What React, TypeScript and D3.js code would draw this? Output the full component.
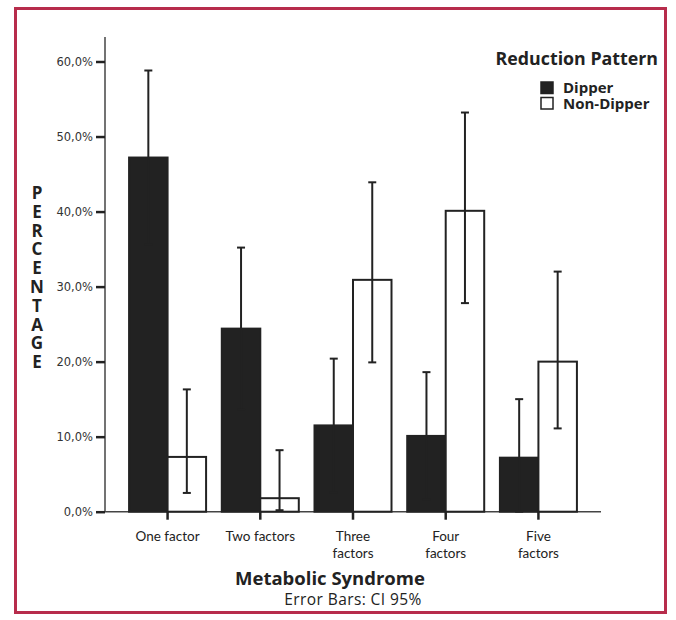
import React, { useEffect, useRef } from 'react';
import * as d3 from 'd3';

const categories = [["One factor"], ["Two factors"], ["Three", "factors"], ["Four", "factors"], ["Five", "factors"]];
const seriesNames = ["Dipper", "Non-Dipper"];
const dipper = [47.2, 24.4, 11.5, 10.1, 7.2];
const dipperLow = [35.6, 13.6, 2.6, 1.6, -0.6];
const dipperHigh = [58.8, 35.2, 20.4, 18.6, 15.0];
const nonDipper = [7.3, 1.8, 30.9, 40.1, 20.0];
const nonDipperLow = [2.5, 0.2, 19.9, 27.8, 11.1];
const nonDipperHigh = [16.3, 8.2, 43.9, 53.2, 32.0];
const yTicks = [0, 10, 20, 30, 40, 50, 60];

const W = 676;
const H = 620;

export default function App() {
  const svgRef = useRef<SVGSVGElement>(null);

  useEffect(() => {
    if (!svgRef.current) return;
    const svg = d3.select(svgRef.current);
    svg.selectAll("*").remove();

    const ink = "#222222";
    const sans = "'Open Sans', 'DejaVu Sans', sans-serif";

    // frame
    svg.append("rect").attr("x", 15.5).attr("y", 8.5).attr("width", 650).attr("height", 604)
      .attr("fill", "#fff").attr("stroke", "#b72c4c").attr("stroke-width", 3);

    const x0 = 105, x1 = 601, yTop = 37;
    const x = d3.scalePoint<number>().domain(d3.range(categories.length)).range([x0, x1]).padding(0.675);
    const y = d3.scaleLinear().domain([0, 60]).range([511.7, 61.5]);
    const bw = 38.5;

    // axes
    svg.append("line").attr("x1", x0).attr("x2", x0).attr("y1", yTop).attr("y2", y(0))
      .attr("stroke", "#444").attr("stroke-width", 1.5);
    svg.append("line").attr("x1", x0).attr("x2", x1).attr("y1", y(0)).attr("y2", y(0))
      .attr("stroke", "#444").attr("stroke-width", 1.5);

    const yAxis = svg.append("g").attr("transform", `translate(${x0},0)`)
      .call(d3.axisLeft(y).tickValues(yTicks).tickSize(9).tickPadding(3).tickFormat(d => `${(+d).toFixed(1).replace(".", ",")}%`));
    yAxis.select(".domain").remove();
    yAxis.selectAll(".tick line").attr("stroke", ink).attr("stroke-width", 2.5);
    yAxis.selectAll(".tick text").attr("fill", "#333").style("font-family", "'DejaVu Sans', sans-serif").style("font-size", "11.5px");

    // bars
    const groups = [
      { vals: dipper, lo: dipperLow, hi: dipperHigh, fill: ink, off: -bw },
      { vals: nonDipper, lo: nonDipperLow, hi: nonDipperHigh, fill: "#fff", off: 0 },
    ];
    groups.forEach(s => {
      const g = svg.append("g");
      g.selectAll("rect").data(s.vals).enter().append("rect")
        .attr("x", (_, i) => x(i)! + s.off)
        .attr("y", d => y(d))
        .attr("width", bw)
        .attr("height", d => y(0) - y(d))
        .attr("fill", s.fill).attr("stroke", ink).attr("stroke-width", 2);
    });
    groups.forEach(s => {
      const g = svg.append("g").attr("stroke", ink).attr("stroke-width", 2);
      s.vals.forEach((_, i) => {
        const cx = x(i)! + s.off + bw / 2;
        const lo = Math.max(0, s.lo[i]);
        g.append("line").attr("x1", cx).attr("x2", cx).attr("y1", y(lo)).attr("y2", y(s.hi[i]));
        g.append("line").attr("x1", cx - 4).attr("x2", cx + 4).attr("y1", y(s.hi[i])).attr("y2", y(s.hi[i]));
        g.append("line").attr("x1", cx - 4).attr("x2", cx + 4).attr("y1", y(lo)).attr("y2", y(lo));
      });
    });

    // x ticks and labels
    categories.forEach((lines, i) => {
      svg.append("line").attr("x1", x(i)!).attr("x2", x(i)!).attr("y1", y(0)).attr("y2", y(0) + 8)
        .attr("stroke", ink).attr("stroke-width", 2.5);
      const t = svg.append("text").attr("text-anchor", "middle").attr("fill", "#222")
        .style("font-family", "Lato, sans-serif").style("font-size", "13.5px");
      lines.forEach((ln, k) => {
        t.append("tspan").attr("x", x(i)!).attr("y", 540.5 + k * 17).text(ln);
      });
    });

    // axis titles
    svg.append("text").attr("x", 330).attr("y", 585).attr("text-anchor", "middle").attr("fill", "#222")
      .style("font-family", sans).style("font-weight", "bold").style("font-size", "18.5px").text("Metabolic Syndrome");
    svg.append("text").attr("x", 353).attr("y", 605).attr("text-anchor", "middle").attr("fill", "#222")
      .style("font-family", sans).style("font-size", "15.5px").style("letter-spacing", "0.4px").text("Error Bars: CI 95%");

    const yl = svg.append("text").attr("text-anchor", "middle").attr("fill", "#222")
      .style("font-family", sans).style("font-weight", "bold").style("font-size", "17px");
    "PERCENTAGE".split("").forEach((c, k) => {
      yl.append("tspan").attr("x", 37).attr("y", 199 + k * 18.8).text(c);
    });

    // legend
    svg.append("text").attr("x", 658).attr("y", 65).attr("text-anchor", "end").attr("fill", "#222")
      .style("font-family", sans).style("font-weight", "bold").style("font-size", "17.8px").text("Reduction Pattern");
    seriesNames.forEach((name, k) => {
      svg.append("rect").attr("x", 541).attr("y", 82 + k * 15.5).attr("width", 12).attr("height", 11.5)
        .attr("fill", k === 0 ? ink : "#fff").attr("stroke", ink).attr("stroke-width", 1.5);
      svg.append("text").attr("x", 563).attr("y", 93 + k * 15.5).attr("fill", "#222")
        .style("font-family", sans).style("font-weight", "bold").style("font-size", "15px").text(name);
    });
  }, []);

  return (
    <svg ref={svgRef} width={W} height={H} viewBox={`0 0 ${W} ${H}`}
      style={{ position: "absolute", left: 0, top: 0, background: "#fff" }} />
  );
}
